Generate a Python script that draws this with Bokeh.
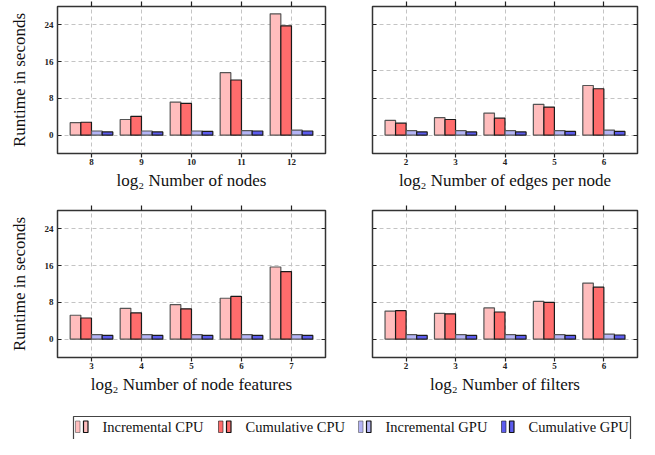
from bokeh.plotting import figure
from bokeh.layouts import column, row
from bokeh.models import ColumnDataSource, Range1d, FixedTicker, LinearAxis, LabelSet
from bokeh.transform import dodge
from bokeh.embed import file_html
from bokeh.resources import INLINE

# ---------------- data ----------------
series_names = ["Incremental CPU", "Cumulative CPU", "Incremental GPU", "Cumulative GPU"]

nodes_labels = ["8", "9", "10", "11", "12"]
nodes_inc_cpu = [2.7, 3.4, 7.2, 13.6, 26.4]
nodes_cum_cpu = [2.8, 4.1, 6.9, 12.0, 23.8]
nodes_inc_gpu = [0.9, 0.9, 0.9, 1.0, 1.1]
nodes_cum_gpu = [0.7, 0.7, 0.8, 0.9, 0.9]

edges_labels = ["2", "3", "4", "5", "6"]
edges_inc_cpu = [3.2, 3.8, 4.8, 6.7, 10.8]
edges_cum_cpu = [2.6, 3.4, 3.7, 6.1, 10.1]
edges_inc_gpu = [1.0, 1.0, 1.0, 1.0, 1.1]
edges_cum_gpu = [0.7, 0.7, 0.7, 0.8, 0.8]

feat_labels = ["3", "4", "5", "6", "7"]
feat_inc_cpu = [5.2, 6.7, 7.5, 8.9, 15.7]
feat_cum_cpu = [4.6, 5.7, 6.6, 9.3, 14.7]
feat_inc_gpu = [1.0, 1.0, 1.0, 1.0, 1.0]
feat_cum_gpu = [0.8, 0.8, 0.8, 0.8, 0.8]

filt_labels = ["2", "3", "4", "5", "6"]
filt_inc_cpu = [6.1, 5.6, 6.8, 8.2, 12.2]
filt_cum_cpu = [6.2, 5.5, 5.9, 8.0, 11.3]
filt_inc_gpu = [1.0, 1.0, 1.0, 1.0, 1.1]
filt_cum_gpu = [0.8, 0.8, 0.8, 0.8, 0.9]

yticks_main = [0, 8, 16, 24]
yticks_edges = [0, 8, 14, 24]

titles = ["log\u2082 Number of nodes", "log\u2082 Number of edges per node",
          "log\u2082 Number of node features", "log\u2082 Number of filters"]
ylabel = "Runtime in seconds"

# ---------------- style ----------------
FILLS = ["#ffbdbd", "#ff6c6c", "#b4b4f6", "#5c5cee"]
LINES = ["#555555", "#1a1a1a", "#555555", "#1a1a1a"]
OFFSETS = [-0.32, -0.107, 0.107, 0.32]
BAR_W = 0.213
SERIF = "Liberation Serif"
GRID = "#c4c4c4"
FRAME_H = 147


def panel(labels, vals, yticks, title, show_ylabel, left_border, frame_w, top_border, right_border):
    p = figure(frame_width=frame_w, frame_height=FRAME_H,
               x_range=Range1d(-0.68, 4.68), y_range=Range1d(-4, 28),
               output_backend="svg", toolbar_location=None,
               min_border_left=left_border, min_border_right=right_border,
               min_border_top=top_border, min_border_bottom=42)
    src = ColumnDataSource(dict(idx=list(range(len(labels))),
                                s0=vals[0], s1=vals[1], s2=vals[2], s3=vals[3]))
    for k in range(4):
        p.vbar(x=dodge("idx", OFFSETS[k], range=p.x_range), top="s%d" % k, bottom=0,
               width=BAR_W, source=src, fill_color=FILLS[k],
               line_color=LINES[k], line_width=1.2)
    xt = FixedTicker(ticks=list(range(len(labels))))
    yt = FixedTicker(ticks=yticks)
    p.xaxis.ticker = xt
    p.yaxis.ticker = yt
    p.xaxis.major_label_overrides = {i: lab for i, lab in enumerate(labels)}
    p.xgrid.ticker = xt
    p.ygrid.ticker = yt
    p.grid.grid_line_color = GRID
    p.grid.grid_line_dash = "4 3"
    p.grid.grid_line_width = 1

    p.outline_line_color = "#333333"
    p.outline_line_width = 1.5
    p.axis.axis_line_color = None
    p.axis.minor_tick_line_color = None
    p.axis.major_tick_line_color = "#222222"
    p.axis.major_tick_line_width = 1.2
    p.axis.major_label_text_font = SERIF
    p.axis.major_label_text_font_size = "9px"
    p.axis.major_label_text_font_style = "bold"
    p.axis.major_label_text_color = "#222222"

    p.xaxis.major_tick_out = 4
    p.xaxis.major_tick_in = 0
    p.xaxis.major_label_standoff = 1
    p.xaxis.axis_label = title
    p.xaxis.axis_label_text_font = SERIF
    p.xaxis.axis_label_text_font_size = "17px"
    p.xaxis.axis_label_text_font_style = "normal"
    p.xaxis.axis_label_text_color = "#111111"
    p.xaxis.axis_label_standoff = 3

    p.yaxis.major_tick_out = 0
    p.yaxis.major_tick_in = 4
    p.yaxis.major_label_standoff = 4
    if show_ylabel:
        p.yaxis.axis_label = ylabel
        p.yaxis.axis_label_text_font = SERIF
        p.yaxis.axis_label_text_font_size = "17px"
        p.yaxis.axis_label_text_font_style = "normal"
        p.yaxis.axis_label_text_color = "#111111"
        p.yaxis.axis_label_standoff = 13
    else:
        p.yaxis.major_label_text_color = None

    top = LinearAxis(ticker=xt, major_tick_out=5, major_tick_in=0,
                     major_label_text_font_size="0px", major_label_standoff=0,
                     axis_line_color=None, minor_tick_line_color=None,
                     major_tick_line_color="#222222", major_tick_line_width=1.2,
                     major_label_text_color=None)
    p.add_layout(top, "above")
    right = LinearAxis(ticker=yt, major_tick_out=0, major_tick_in=4,
                       major_label_text_font_size="0px", major_label_standoff=0,
                       axis_line_color=None, minor_tick_line_color=None,
                       major_tick_line_color="#222222", major_tick_line_width=1.2,
                       major_label_text_color=None)
    p.add_layout(right, "right")
    return p


p1 = panel(nodes_labels, [nodes_inc_cpu, nodes_cum_cpu, nodes_inc_gpu, nodes_cum_gpu],
           yticks_main, titles[0], True, 57, 268, 6, 3)
p2 = panel(edges_labels, [edges_inc_cpu, edges_cum_cpu, edges_inc_gpu, edges_cum_gpu],
           yticks_edges, titles[1], False, 44, 265, 6, 2)
p3 = panel(feat_labels, [feat_inc_cpu, feat_cum_cpu, feat_inc_gpu, feat_cum_gpu],
           yticks_main, titles[2], True, 57, 268, 15, 3)
p4 = panel(filt_labels, [filt_inc_cpu, filt_cum_cpu, filt_inc_gpu, filt_cum_gpu],
           yticks_main, titles[3], False, 44, 265, 15, 2)

# ---------------- legend strip ----------------
LEG_W, LEG_H = 639, 40
leg = figure(frame_width=LEG_W, frame_height=LEG_H, x_range=Range1d(0, LEG_W), y_range=Range1d(0, LEG_H),
             output_backend="svg", toolbar_location=None,
             x_axis_location=None, y_axis_location=None,
             min_border_left=0, min_border_right=0, min_border_top=0, min_border_bottom=0)
leg.grid.visible = False
leg.outline_line_color = None
leg.quad(left=[73], right=[630], top=[23], bottom=[-5], fill_color=None,
         line_color="#444444", line_width=1.2)
icon_x = [75, 218, 358, 501]
for k in range(4):
    x0 = icon_x[k]
    leg.quad(left=[x0], right=[x0 + 4.5], top=[18.5], bottom=[7],
             fill_color=FILLS[k], line_color=LINES[k], line_alpha=0.6, line_width=1)
    leg.quad(left=[x0 + 8], right=[x0 + 12.5], top=[18.5], bottom=[7],
             fill_color=FILLS[k], line_color="#111111", line_width=1.2)
lab_src = ColumnDataSource(dict(x=[x + 27 for x in icon_x], y=[8] * 4, text=series_names))
leg.add_layout(LabelSet(x="x", y="y", text="text", source=lab_src,
                        text_font=SERIF, text_font_size="14.5px", text_color="#111111",
                        text_baseline="alphabetic", text_align="left"))

layout = column(row(p1, p2), row(p3, p4), leg)
open("out.html", "w").write(file_html(layout, INLINE))
